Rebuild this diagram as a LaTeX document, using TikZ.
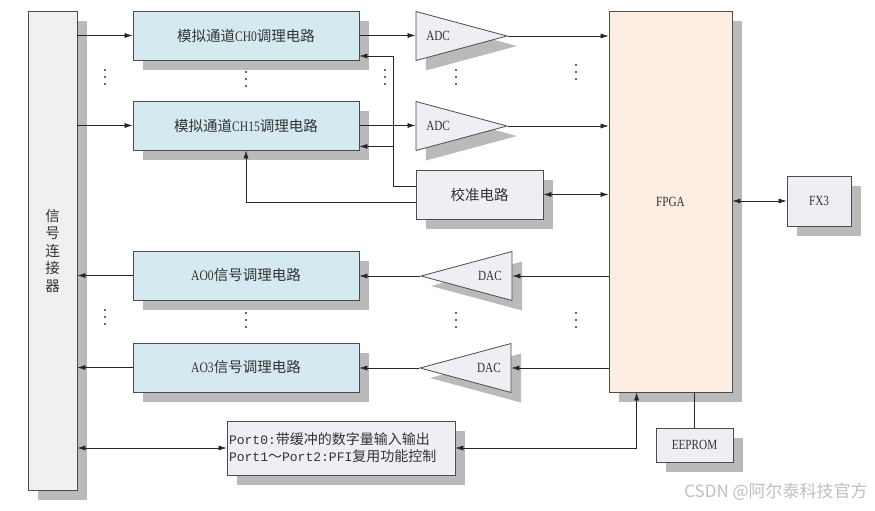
\documentclass[tikz,border=0pt]{standalone}
\usepackage{fontspec}
\setmainfont{Liberation Serif}[FakeStretch=0.8]
\setmonofont{Liberation Mono}[Scale=0.93]
\newfontfamily\cjk{Noto Sans CJK SC}
\usetikzlibrary{shapes.geometric,shadows,arrows.meta}

\definecolor{chfill}{RGB}{213,234,240}
\definecolor{boxfill}{RGB}{238,238,244}
\definecolor{fpgafill}{RGB}{253,238,228}
\definecolor{connfill}{RGB}{240,240,240}

\tikzset{
  box/.style={draw=black!70, line width=0.8pt, fill=boxfill, inner sep=0pt, text=black!80,
    drop shadow={shadow xshift=10pt, shadow yshift=-10pt, fill=black!27, opacity=1},
    font=\cjk\fontsize{14.5}{17.5}\selectfont},
  chbox/.style={box, fill=chfill, minimum width=226pt, minimum height=49pt},
  amp/.style={box, isosceles triangle, isosceles triangle stretches,
    minimum width=49pt, minimum height=91pt, font=\fontsize{14}{17}\selectfont},
  arr/.style={-{Latex[length=8pt,width=5pt]}, black!85, line width=0.6pt},
  darr/.style={{Latex[length=8pt,width=5pt]}-{Latex[length=8pt,width=5pt]}, black!85, line width=0.6pt},
}

\begin{document}
\begin{tikzpicture}[x=1pt,y=-1pt]
  \useasboundingbox (0,0) rectangle (875,511);

  % connector
  \node[box, fill=connfill, minimum width=49pt, minimum height=479pt, align=center] (conn) at (52.5,250.5) {信\\号\\连\\接\\器};

  % analog input channels
  \node[chbox] (ch0) at (246,35.5) {模拟通道{\rmfamily CH0}调理电路};
  \node[chbox] (ch15) at (246,125.5) {模拟通道{\rmfamily CH15}调理电路};
  \node[amp, shape border rotate=0, anchor=apex] (adc0) at (508,36) {ADC};
  \node[amp, shape border rotate=0, anchor=apex] (adc15) at (508,126) {ADC};
  \node[box, minimum width=127pt, minimum height=49pt] (cal) at (479.5,194.5) {校准电路};

  % analog outputs
  \node[chbox] (ao0) at (246,275.5) {{\rmfamily AO0}信号调理电路};
  \node[chbox] (ao3) at (246,367.5) {{\rmfamily AO3}信号调理电路};
  \node[amp, shape border rotate=180, anchor=apex] (dac0) at (420,276) {DAC};
  \node[amp, shape border rotate=180, anchor=apex] (dac3) at (419,368) {DAC};

  % digital side
  \node[box, fill=fpgafill, minimum width=123pt, minimum height=381pt, font=\fontsize{14}{17}\selectfont] (fpga) at (670.5,201.5) {FPGA};
  \node[box, minimum width=64pt, minimum height=50pt, font=\fontsize{14}{17}\selectfont] (fx3) at (819,201) {FX3};
  \node[box, minimum width=77pt, minimum height=34pt, font=\fontsize{14}{17}\selectfont] (eeprom) at (694.5,445) {EEPROM};
  \node[box, minimum width=228pt, minimum height=54pt, inner xsep=2pt, text width=224pt, align=left,
    font=\ttfamily\fontsize{14}{17}\selectfont] (port) at (341,448)
    {Port0:{\cjk 带缓冲的数字量输入输出}\\Port1{\cjk ～}Port2:PFI{\cjk 复用功能控制}};

  % signal flow
  \draw[arr] (conn.east |- ch0) -- (ch0.west);
  \draw[arr] (conn.east |- ch15) -- (ch15.west);
  \draw[arr] (ch0.east) -- (ch0.east -| adc0.west);
  \draw[arr] (ch15.east) -- (ch15.east -| adc15.west);
  \draw[arr] (adc0.apex) -- (adc0.apex -| fpga.west);
  \draw[arr] (adc15.apex) -- (adc15.apex -| fpga.west);

  % calibration
  \coordinate (tap) at (393,56);
  \coordinate (ch15in) at ([yshift=4pt]ch15.south east);
  \draw[arr] ([yshift=8.5pt]cal.west) -| (tap) -- (tap -| ch0.east);
  \draw[arr] (ch15in -| tap) -- (ch15in);
  \draw[arr] ([yshift=-7.5pt]cal.west) -| (ch15.south);
  \draw[darr] (cal.east) -- (cal.east -| fpga.west);

  % outputs
  \draw[arr] (dac0.east -| fpga.west) -- (dac0.east);
  \draw[arr] (dac3.east -| fpga.west) -- (dac3.east);
  \draw[arr] (dac0.apex) -- (dac0.apex -| ao0.east);
  \draw[arr] (dac3.apex) -- (dac3.apex -| ao3.east);
  \draw[arr] (ao0.west) -- (ao0.west -| conn.east);
  \draw[arr] (ao3.west) -- (ao3.west -| conn.east);

  % digital io
  \draw[darr] (port.west) -- (port.west -| conn.east);
  \draw[darr] (port.east) -| ([xshift=28pt]fpga.south west);
  \draw[darr] (fx3.west -| fpga.east) -- (fx3.west);
  \draw[black!85, line width=0.6pt] (eeprom.north) -- (eeprom.north |- fpga.south);

  % dots
  \foreach \x/\y in {105/70, 246/72, 385/70, 456/70, 576/65, 105/310, 246/313, 456/313, 576/313}
    \foreach \k in {0,1,2}
      \fill[black!80] (\x,{\y+\k*7}) circle (1.1pt);

  \node[text=black!25, font=\cjk\fontsize{17}{20}\selectfont] (mark) at (776,492) {CSDN @阿尔泰科技官方};
\end{tikzpicture}
\end{document}
